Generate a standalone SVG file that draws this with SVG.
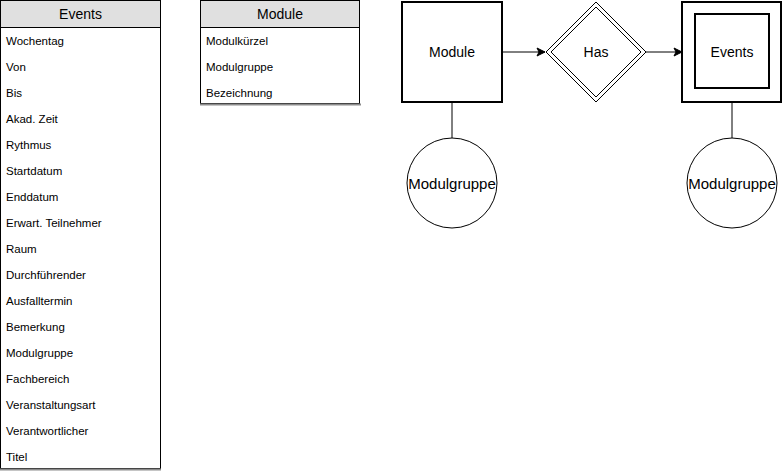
<svg xmlns="http://www.w3.org/2000/svg" width="784" height="472" viewBox="0 0 784 472">
<defs>
<marker id="arr" markerWidth="10" markerHeight="10" refX="9" refY="5" orient="auto" markerUnits="userSpaceOnUse">
<path d="M1,1 L9,5 L1,9 L3,5 Z" fill="#000" stroke="#000" stroke-width="1"/>
</marker>
</defs>
<style>
text{font-family:"Liberation Sans",Arial,sans-serif;fill:#000}
.hdr{fill:#e0e0e0;stroke:#000;stroke-width:1}
.tbl{fill:#fff;stroke:#000;stroke-width:1}
.bot{stroke:#8c8c8c;stroke-width:2}
.row{font-size:11.5px}
.ht{font-size:14px;text-anchor:middle}
.ent{fill:#fff;stroke:#000;stroke-width:2}
.thin{fill:#fff;stroke:#000;stroke-width:1}
.lbl{font-size:14px;text-anchor:middle}
.att{font-size:15px;text-anchor:middle}
.conn{stroke:#000;stroke-width:1;fill:none}
</style>
<g id="events-table">
<rect class="tbl" x="0.5" y="0.5" width="160" height="468"/>
<line class="bot" x1="0" y1="469.5" x2="161" y2="469.5"/>
<rect class="hdr" x="0.5" y="0.5" width="160" height="27"/>
<text class="ht" x="80.5" y="19">Events</text>
<text class="row" x="6" y="45">Wochentag</text>
<text class="row" x="6" y="71">Von</text>
<text class="row" x="6" y="97">Bis</text>
<text class="row" x="6" y="123">Akad. Zeit</text>
<text class="row" x="6" y="149">Rythmus</text>
<text class="row" x="6" y="175">Startdatum</text>
<text class="row" x="6" y="201">Enddatum</text>
<text class="row" x="6" y="227">Erwart. Teilnehmer</text>
<text class="row" x="6" y="253">Raum</text>
<text class="row" x="6" y="279">Durchführender</text>
<text class="row" x="6" y="305">Ausfalltermin</text>
<text class="row" x="6" y="331">Bemerkung</text>
<text class="row" x="6" y="357">Modulgruppe</text>
<text class="row" x="6" y="383">Fachbereich</text>
<text class="row" x="6" y="409">Veranstaltungsart</text>
<text class="row" x="6" y="435">Verantwortlicher</text>
<text class="row" x="6" y="461">Titel</text>
</g>
<g id="module-table">
<rect class="tbl" x="200.5" y="0.5" width="159" height="103"/>
<line class="bot" x1="200" y1="104.5" x2="361" y2="104.5"/>
<rect class="hdr" x="200.5" y="0.5" width="159" height="27"/>
<text class="ht" x="280" y="19">Module</text>
<text class="row" x="206" y="45">Modulkürzel</text>
<text class="row" x="206" y="71">Modulgruppe</text>
<text class="row" x="206" y="97">Bezeichnung</text>
</g>
<g id="connectors">
<line class="conn" x1="502" y1="52" x2="545" y2="52" marker-end="url(#arr)"/>
<line class="conn" x1="646" y1="52" x2="682" y2="52" marker-end="url(#arr)"/>
<line class="conn" x1="452" y1="102" x2="452" y2="138"/>
<line class="conn" x1="732" y1="102" x2="732" y2="138"/>
</g>
<g id="module-entity">
<rect class="ent" x="402" y="2" width="100" height="100"/>
<text class="lbl" x="452" y="57">Module</text>
</g>
<g id="has-relationship">
<polygon class="thin" points="596,2 646,52 596,102 546,52"/>
<polygon class="thin" points="596,7 641,52 596,97 551,52"/>
<text class="lbl" x="596" y="57">Has</text>
</g>
<g id="events-entity">
<rect class="ent" x="682" y="2" width="99" height="100"/>
<rect class="ent" x="695" y="14" width="74" height="74"/>
<text class="lbl" x="732" y="57">Events</text>
</g>
<g id="module-attr">
<circle class="thin" cx="452" cy="183" r="45"/>
<text class="att" x="452" y="189">Modulgruppe</text>
</g>
<g id="events-attr">
<circle class="thin" cx="732" cy="183" r="45"/>
<text class="att" x="732" y="189">Modulgruppe</text>
</g>
</svg>
